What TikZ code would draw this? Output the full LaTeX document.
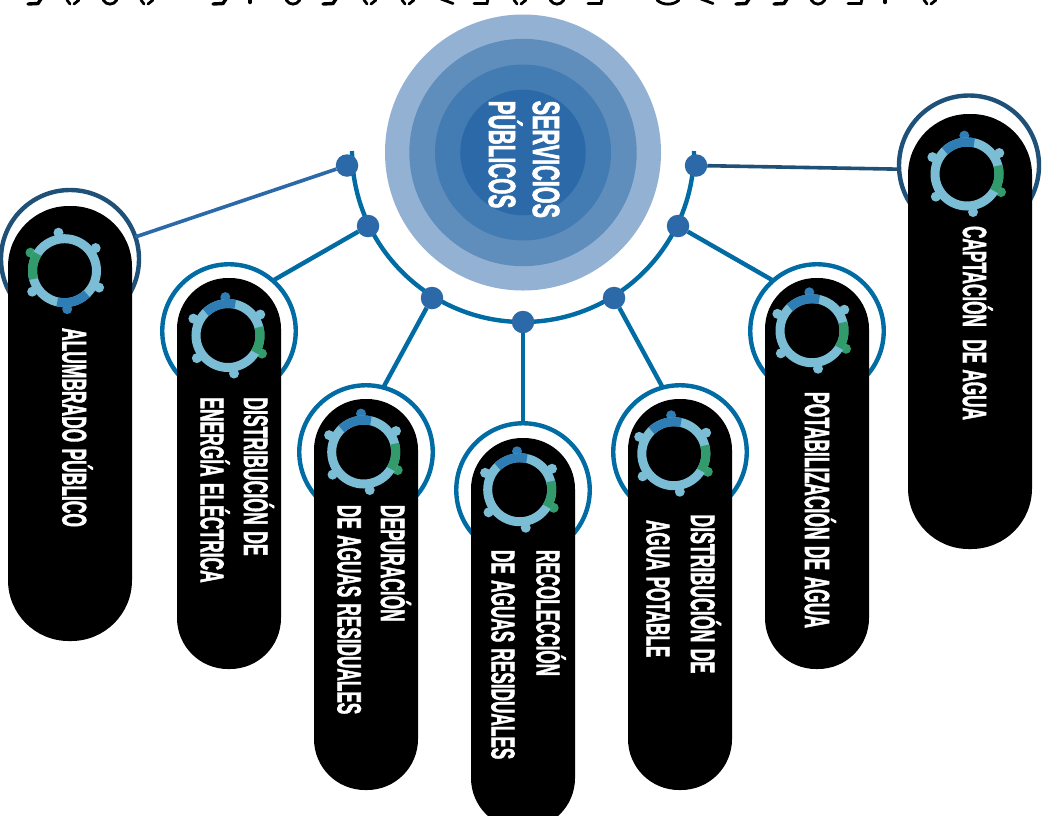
\documentclass[tikz,border=0pt]{standalone}
\usepackage{fontspec}
\setmainfont{Liberation Sans}[BoldFeatures={FakeBold=2.2}]
\newfontfamily\centrefont{Liberation Sans Bold}
\definecolor{cA}{HTML}{93B2D3}
\definecolor{cB}{HTML}{5F8EBD}
\definecolor{cC}{HTML}{437BB3}
\definecolor{cD}{HTML}{2B69A8}
\definecolor{lineblue}{HTML}{006CA3}
\definecolor{darkblue}{HTML}{1F5078}
\definecolor{gearlight}{HTML}{7ABDD4}
\definecolor{gearblue}{HTML}{2F7DB5}
\definecolor{geargreen}{HTML}{329B6C}
\tikzset{
  disc/.style={circle,inner sep=0pt,outer sep=0pt,minimum size=#1},
  dotnode/.style={circle,fill=cD,inner sep=0pt,outer sep=0pt,minimum size=22.5pt},
  halo/.style={circle,draw=lineblue,line width=4.4pt,inner sep=0pt,outer sep=0pt,minimum size=133.5pt},
  darkhalo/.style={circle,draw=darkblue,line width=4.4pt,inner sep=0pt,outer sep=0pt,minimum size=#1},
  pill/.style={fill=black,inner sep=0pt,outer sep=0pt,minimum width=#1,rounded corners=0.49*#1},
  link/.style={draw=lineblue,line width=4.4pt},
  lbl/.style={rotate=-90,anchor=north west,inner sep=0pt,outer sep=0pt,text=white},
  topmark/.style={black,line width=2.8pt,line cap=round}
}
% \lblbox{length}{cap height}{text}
\newcommand{\lblbox}[3]{\resizebox{#1}{#2}{\raisebox{0pt}[22pt][0pt]{\fontsize{32pt}{32pt}\bfseries\selectfont\spaceskip=0.36em #3}}}
\newcommand{\centrebox}[2]{\resizebox{#1}{26pt}{\raisebox{0pt}[22pt][0pt]{\fontsize{32pt}{32pt}\selectfont\bfseries #2}}}
\newcommand{\gearicon}[3]{%
 \begin{scope}[shift={(#1,#2)},x=1pt,y=1pt,rotate=#3]
  \foreach \a in {33,-81,-144,154}{\fill[gearlight] (\a:38.5) circle (5pt);}
  \fill[gearblue] (94:38.5) circle (5pt);
  \fill[geargreen] (-28:38.5) circle (5pt);
  \draw[gearlight,line width=9pt] (0:32) arc (0:360:32);
  \draw[gearblue,line width=9pt] (134:32) arc (134:77:32);
  \draw[geargreen,line width=9pt] (15:32) arc (15:-32:32);
 \end{scope}}
\newcommand{\mU}[2][7]{\draw[topmark] (#2-#1,0) .. controls (#2-#1*0.5,5.5) and (#2+#1*0.5,5.5) .. (#2+#1,0);}
\newcommand{\mB}[1]{\draw[topmark,line width=3.4pt] (#1-7,4) -- (#1+3,3.5) -- (#1+6,-1);}
\newcommand{\mS}[1]{\draw[topmark] (#1-6,0) -- (#1-3,4); \draw[topmark] (#1+1,4) -- (#1+6,0);}
\newcommand{\mF}[1]{\draw[topmark] (#1-7,3.5) -- (#1+6,3.5) -- (#1+7,-1);}
\newcommand{\mC}[1]{\draw[topmark] (#1-6,-1) -- (#1+6,3.5);}
\newcommand{\mD}[1]{\draw[topmark,line width=3.4pt] (#1,-1) -- (#1,2.5);}
\begin{document}
\begin{tikzpicture}[x=1pt,y=-1pt]
\clip (0,0) rectangle (1048,815);
\fill[white] (0,0) rectangle (1048,815);
% top clipped marks
\mB{35}\mS{73}\mU{110}\mS{147}\mB{220}\mD{250}\mU{293}\mB{330}
\mS{370}\mS{408}\mC{447}\mF{481}\mS{520}\mU{557}\mF{595}\mU[11]{668}
\mC{707}\mB{743}\mB{781}\mU{818}\mF{855}\mD{885}\mS{930}
% central discs
\node[disc=276pt,fill=cA] (c1) at (523,152.5) {};
\node[disc=227.4pt,fill=cB] (c2) at (523,152.5) {};
\node[disc=176pt,fill=cC] (c3) at (523,152.5) {};
\node[disc=125.4pt,fill=cD] (c4) at (523,152.5) {};
\node[lbl] (t1) at (559,100.7) {\centrebox{117.3pt}{SERVICIOS}};
\node[lbl] (t2) at (515,100.7) {\centrebox{107.6pt}{PÚBLICOS}};
% arc
\begin{scope}[shift={(523,151)},y=1pt]
 \draw[lineblue,line width=4.4pt] (0:171) arc (0:-180:171);
\end{scope}
% halos
\node[darkhalo=138pt] (r1) at (70,259) {};
\node[halo] (r2) at (229,331) {};
\node[halo] (r3) at (366,452) {};
\node[halo] (r4) at (523,490) {};
\node[halo] (r5) at (680,452) {};
\node[halo] (r6) at (817,331) {};
\node[darkhalo=140pt] (r7) at (969,165.5) {};
% dots
\node[dotnode] (d1) at (347,165.5) {};
\node[dotnode] (d2) at (368,226) {};
\node[dotnode] (d3) at (432,298) {};
\node[dotnode] (d4) at (523,322) {};
\node[dotnode] (d5) at (614,298) {};
\node[dotnode] (d6) at (678,226) {};
\node[dotnode] (d7) at (696,165.5) {};
% connectors
\draw[draw=cD,line width=3.6pt] (d1) -- (r1);
\draw[link] (d2) -- (r2.49);
\draw[link] (d3) -- (r3.75);
\draw[link] (d4) -- (r4.90);
\draw[link] (d5) -- (r5.105);
\draw[link] (d6) -- (r6.131);
\draw[draw=darkblue,line width=3.6pt] (d7) -- (r7.183);
% pills
\node[pill=124pt,minimum height=435pt] (p1) at (70,423.5) {};
\node[pill=104pt,minimum height=391pt] (p2) at (229,473.5) {};
\node[pill=104pt,minimum height=391pt] (p3) at (366,594.5) {};
\node[pill=104pt,minimum height=391pt] (p4) at (523,633.5) {};
\node[pill=104pt,minimum height=391pt] (p5) at (680,594.5) {};
\node[pill=104pt,minimum height=391pt] (p6) at (817,473.5) {};
\node[pill=124pt,minimum height=435pt] (p7) at (970,331.5) {};
% gear icons
\gearicon{64.5}{270.7}{180}
\gearicon{228}{335.5}{0}
\gearicon{363.7}{452}{0}
\gearicon{519.7}{489.7}{0}
\gearicon{673.8}{453.7}{0}
\gearicon{812}{330.7}{0}
\gearicon{967}{174}{0}
% labels
\node[lbl] (l1) at (86,328) {\lblbox{199pt}{23.5pt}{ALUMBRADO PÚBLICO}};
\node[lbl] (l2a) at (267.3,397.3) {\lblbox{158.4pt}{23.3pt}{DISTRIBUCIÓN DE}};
\node[lbl] (l2b) at (223.3,397.3) {\lblbox{185.4pt}{22.6pt}{ENERGÍA ELÉCTRICA}};
\node[lbl] (l3a) at (404.3,505) {\lblbox{116.7pt}{23.3pt}{DEPURACIÓN}};
\node[lbl] (l3b) at (360.7,505) {\lblbox{209.3pt}{23pt}{DE AGUAS RESIDUALES}};
\node[lbl] (l4a) at (559.3,550) {\lblbox{126pt}{22.6pt}{RECOLECCIÓN}};
\node[lbl] (l4b) at (514.3,550) {\lblbox{209.3pt}{22.6pt}{DE AGUAS RESIDUALES}};
\node[lbl] (l5a) at (714.3,514.3) {\lblbox{159pt}{23.3pt}{DISTRIBUCIÓN DE}};
\node[lbl] (l5b) at (669.3,520) {\lblbox{137.3pt}{22.6pt}{AGUA POTABLE}};
\node[lbl] (l6) at (829,392) {\lblbox{236pt}{24pt}{POTABILIZACIÓN DE AGUA}};
\node[lbl] (l7) at (986,226) {\lblbox{194pt}{23pt}{CAPTACIÓN\ \ DE AGUA}};
\end{tikzpicture}
\end{document}
